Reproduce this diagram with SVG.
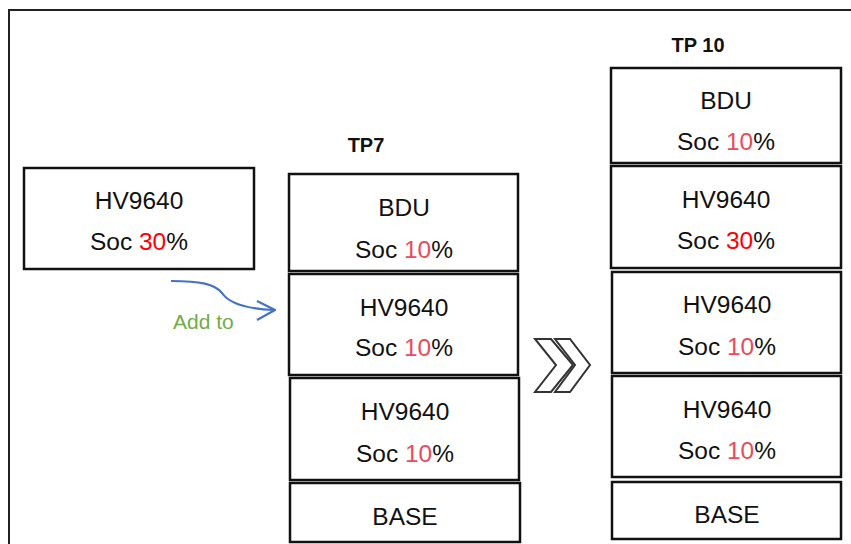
<svg xmlns="http://www.w3.org/2000/svg" width="851" height="544" viewBox="0 0 851 544">
<style>
.box{fill:#fff;stroke:#111;stroke-width:2.5}
.t{font-family:"Liberation Sans",Arial,sans-serif;font-size:24.5px;fill:#111;text-anchor:middle}
.h{font-family:"Liberation Sans",Arial,sans-serif;font-size:20px;font-weight:bold;fill:#111;text-anchor:middle}
.r{fill:#ff0000}
.p{fill:#e94b5b}
</style>
<rect width="851" height="544" fill="#fff"/>
<path d="M9,560 V10 H860" fill="none" stroke="#222" stroke-width="2"/>

<g id="new-hv9640">
<rect class="box" x="24" y="168" width="230" height="101"/>
<text class="t" x="139" y="209">HV9640</text>
<text class="t" x="139" y="250">Soc <tspan class="r">30</tspan>%</text>
</g>

<text class="h" x="366" y="152">TP7</text>
<g id="tp7-bdu">
<rect class="box" x="289" y="174" width="229" height="97"/>
<text class="t" x="404" y="216">BDU</text>
<text class="t" x="404" y="258">Soc <tspan class="p">10</tspan>%</text>
</g>
<g id="tp7-hv1">
<rect class="box" x="289" y="274" width="229" height="101"/>
<text class="t" x="404" y="316">HV9640</text>
<text class="t" x="404" y="356">Soc <tspan class="p">10</tspan>%</text>
</g>
<g id="tp7-hv2">
<rect class="box" x="290" y="378" width="229" height="102"/>
<text class="t" x="405" y="420">HV9640</text>
<text class="t" x="405" y="462">Soc <tspan class="p">10</tspan>%</text>
</g>
<g id="tp7-base">
<rect class="box" x="290" y="483" width="230" height="59"/>
<text class="t" x="405" y="525">BASE</text>
</g>

<text class="h" x="698" y="52">TP 10</text>
<g id="tp10-bdu">
<rect class="box" x="611" y="68" width="230" height="95"/>
<text class="t" x="726" y="109">BDU</text>
<text class="t" x="726" y="150">Soc <tspan class="p">10</tspan>%</text>
</g>
<g id="tp10-hv-new">
<rect class="box" x="611" y="166" width="230" height="102"/>
<text class="t" x="726" y="208">HV9640</text>
<text class="t" x="726" y="249">Soc <tspan class="r">30</tspan>%</text>
</g>
<g id="tp10-hv1">
<rect class="box" x="612" y="272" width="229" height="101"/>
<text class="t" x="727" y="313">HV9640</text>
<text class="t" x="727" y="355">Soc <tspan class="p">10</tspan>%</text>
</g>
<g id="tp10-hv2">
<rect class="box" x="612" y="376" width="229" height="101"/>
<text class="t" x="727" y="418">HV9640</text>
<text class="t" x="727" y="459">Soc <tspan class="p">10</tspan>%</text>
</g>
<g id="tp10-base">
<rect class="box" x="612" y="482" width="229" height="57"/>
<text class="t" x="727" y="523">BASE</text>
</g>

<g id="connectors">
<path d="M171,281 C200,281 215,284 222,293 C230,305 250,309 274,310" fill="none" stroke="#4472c4" stroke-width="2.2"/>
<path d="M257,301 L275,310 L257,320" fill="none" stroke="#4472c4" stroke-width="2.2" stroke-linejoin="round"/>
<text x="173" y="329" font-family="'Liberation Sans',Arial,sans-serif" font-size="21" fill="#70ad47">Add to</text>
<g fill="none" stroke="#333" stroke-width="2" stroke-linejoin="miter">
<polygon points="535,339 551,339 573,365 551,392 535,392 556,365"/>
<polygon points="555,339 570,339 590,365 570,392 555,392 575,365"/>
</g>
</g>
</svg>
